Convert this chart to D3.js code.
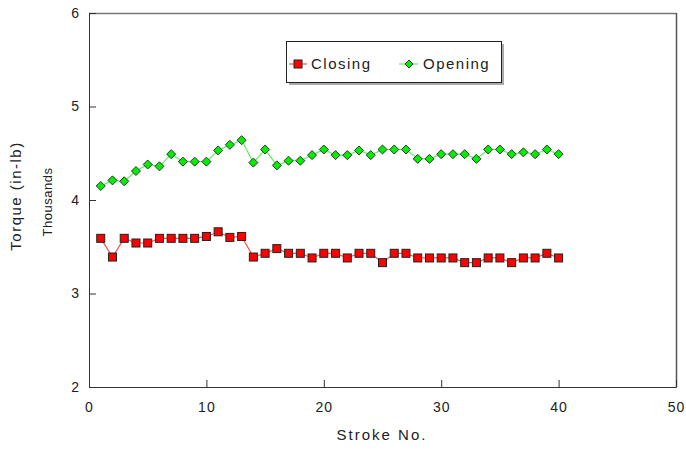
<!DOCTYPE html>
<html>
<head>
<meta charset="utf-8">
<script src="https://cdn.jsdelivr.net/npm/d3@7/dist/d3.min.js"></script>
<style>
  body { margin: 0; background: #fff; }
  text { font-family: "Liberation Sans", Arial, sans-serif; fill: #222; }
</style>
</head>
<body>
<script>
// stroke numbers 1..40
var strokes = [1,2,3,4,5,6,7,8,9,10,11,12,13,14,15,16,17,18,19,20,
               21,22,23,24,25,26,27,28,29,30,31,32,33,34,35,36,37,38,39,40];

// torque in thousands of in-lb
var closing = [3.59,3.39,3.59,3.54,3.54,3.59,3.59,3.59,3.59,3.61,3.66,3.60,3.61,3.39,3.43,3.48,3.43,3.43,3.38,3.43,
               3.43,3.38,3.43,3.43,3.33,3.43,3.43,3.38,3.38,3.38,3.38,3.33,3.33,3.38,3.38,3.33,3.38,3.38,3.43,3.38];
var opening = [4.15,4.21,4.20,4.31,4.38,4.36,4.49,4.41,4.41,4.41,4.53,4.59,4.64,4.40,4.54,4.37,4.42,4.42,4.48,4.54,
               4.48,4.48,4.53,4.48,4.54,4.54,4.54,4.44,4.44,4.49,4.49,4.49,4.44,4.54,4.54,4.49,4.51,4.49,4.54,4.49];

var xTicks = [0,10,20,30,40,50];
var yTicks = [2,3,4,5,6];

var width = 686, height = 451,
    plotLeft = 89, plotRight = 676, plotTop = 13, plotBottom = 387;

var svg = d3.select("body").append("svg")
    .attr("width", width)
    .attr("height", height);

var x = d3.scaleLinear().domain([0, 50]).range([plotLeft, plotRight]);
var y = d3.scaleLinear().domain([2, 6]).range([plotBottom, plotTop]);

// frame: grey top/right, dark left/bottom
svg.append("line").attr("x1", plotLeft).attr("x2", plotRight).attr("y1", plotTop + 0.5).attr("y2", plotTop + 0.5)
  .attr("stroke", "#777").attr("stroke-width", 1.5);
svg.append("line").attr("x1", plotRight + 0.5).attr("x2", plotRight + 0.5).attr("y1", plotTop).attr("y2", plotBottom)
  .attr("stroke", "#555").attr("stroke-width", 1.5);

var xAxis = svg.append("g")
  .attr("transform", "translate(0," + plotBottom + ")")
  .call(d3.axisBottom(x).tickValues(xTicks).tickFormat(d3.format("d")).tickSize(-7).tickPadding(15));
var yAxis = svg.append("g")
  .attr("transform", "translate(" + plotLeft + ",0)")
  .call(d3.axisLeft(y).tickValues(yTicks).tickFormat(d3.format("d")).tickSize(-7).tickPadding(9));

[xAxis, yAxis].forEach(function(a) {
  a.select(".domain").attr("stroke", "#333");
  a.selectAll(".tick line").attr("stroke", "#333");
  a.selectAll(".tick text")
    .style("font-size", "14px")
    .style("letter-spacing", "1px")
    .style("font-family", "'Liberation Sans', Arial, sans-serif")
    .attr("fill", "#333");
});

// axis titles
svg.append("text")
  .attr("x", 382).attr("y", 440)
  .attr("text-anchor", "middle")
  .style("font-size", "15px").style("letter-spacing", "2px")
  .text("Stroke No.");

svg.append("text")
  .attr("transform", "translate(21,196) rotate(-90)")
  .attr("text-anchor", "middle")
  .style("font-size", "15px").style("letter-spacing", "1.5px")
  .text("Torque (in-lb)");

svg.append("text")
  .attr("transform", "translate(52,202) rotate(-90)")
  .attr("text-anchor", "middle")
  .style("font-size", "13px").style("letter-spacing", "0.5px")
  .text("Thousands");

var line = function(vals) {
  return d3.line()
    .x(function(d, i) { return x(strokes[i]); })
    .y(function(d) { return y(d); })(vals);
};

// closing series
svg.append("path").attr("d", line(closing))
  .attr("fill", "none").attr("stroke", "#ff5050").attr("stroke-width", 1.2);
svg.append("g").selectAll("rect")
  .data(closing).enter().append("rect")
  .attr("x", function(d, i) { return x(strokes[i]) - 4; })
  .attr("y", function(d) { return y(d) - 4; })
  .attr("width", 8).attr("height", 8)
  .attr("fill", "#ff0000").attr("stroke", "#222").attr("stroke-width", 1);

// opening series
svg.append("path").attr("d", line(opening))
  .attr("fill", "none").attr("stroke", "#66ee66").attr("stroke-width", 1.2);
svg.append("g").selectAll("path")
  .data(opening).enter().append("path")
  .attr("d", d3.symbol(d3.symbolDiamond2, 52))
  .attr("transform", function(d, i) { return "translate(" + x(strokes[i]) + "," + y(d) + ")"; })
  .attr("fill", "#00ee00").attr("stroke", "#333").attr("stroke-width", 1);

// legend
var lg = svg.append("g");
lg.append("rect").attr("x", 289).attr("y", 44).attr("width", 215).attr("height", 41).attr("fill", "#aaa");
lg.append("rect").attr("x", 286.5).attr("y", 41.5).attr("width", 215).attr("height", 41)
  .attr("fill", "#fff").attr("stroke", "#222");

lg.append("line").attr("x1", 289).attr("x2", 307).attr("y1", 64).attr("y2", 64)
  .attr("stroke", "#ff5050").attr("stroke-width", 1.2);
lg.append("rect").attr("x", 294).attr("y", 60).attr("width", 8).attr("height", 8)
  .attr("fill", "#ff0000").attr("stroke", "#222");
lg.append("text").attr("x", 311).attr("y", 69)
  .style("font-size", "15px").style("letter-spacing", "1.5px").text("Closing");

lg.append("line").attr("x1", 399).attr("x2", 418).attr("y1", 64).attr("y2", 64)
  .attr("stroke", "#66ee66").attr("stroke-width", 1.2);
lg.append("path").attr("d", d3.symbol(d3.symbolDiamond2, 40))
  .attr("transform", "translate(409,64)")
  .attr("fill", "#00ee00").attr("stroke", "#333");
lg.append("text").attr("x", 423).attr("y", 69)
  .style("font-size", "15px").style("letter-spacing", "1.5px").text("Opening");
</script>
</body>
</html>
